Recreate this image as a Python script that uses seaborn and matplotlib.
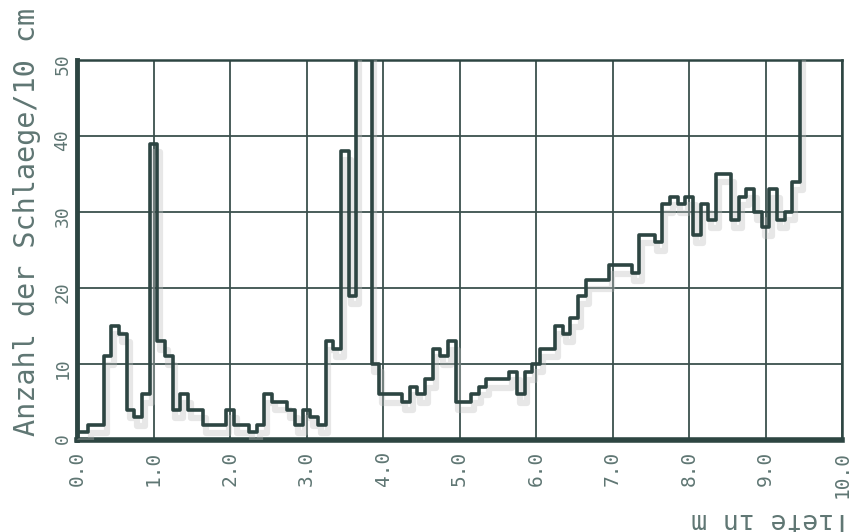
import matplotlib
matplotlib.use("Agg")
import matplotlib.pyplot as plt
import matplotlib.patheffects as pe
import numpy as np
import pandas as pd
import seaborn as sns

# Depth of each 10 cm interval (m)
depth = [round(0.1 * i, 1) for i in range(96)]

# Blow counts per 10 cm (values above 50 run off the top of the plot)
blows = [
    1, 1, 2, 2, 11, 15, 14, 4, 3, 6,          # 0.0 - 0.9
    39, 13, 11, 4, 6, 4, 4, 2, 2, 2,          # 1.0 - 1.9
    4, 2, 2, 1, 2, 6, 5, 5, 4, 2,             # 2.0 - 2.9
    4, 3, 2, 13, 12, 38, 19, 60, 60, 10,      # 3.0 - 3.9
    6, 6, 6, 5, 7, 6, 8, 12, 11, 13,          # 4.0 - 4.9
    5, 5, 6, 7, 8, 8, 8, 9, 6, 9,             # 5.0 - 5.9
    10, 12, 12, 15, 14, 16, 19, 21, 21, 21,   # 6.0 - 6.9
    23, 23, 23, 22, 27, 27, 26, 31, 32, 31,   # 7.0 - 7.9
    32, 27, 31, 29, 35, 35, 29, 32, 33, 30,   # 8.0 - 8.9
    28, 33, 29, 30, 34, 60,                   # 9.0 - 9.5
]

x_ticks = [0, 1, 2, 3, 4, 5, 6, 7, 8, 9, 10]
x_tick_labels = ["0.0", "1.0", "2.0", "3.0", "4.0", "5.0", "6.0", "7.0", "8.0", "9.0", "10.0"]
y_ticks = [0, 10, 20, 30, 40, 50]
y_tick_labels = ["0", "10", "20", "30", "40", "50"]

df = pd.DataFrame({"Tiefe": depth, "Schlaege": blows})

sns.set_style("white")
plt.rcParams["font.family"] = ["DejaVu Sans Mono", "DejaVu Sans"]

line_col = "#2d4542"
grid_col = "#3b504d"
text_col = "#5f7673"

fig = plt.figure(figsize=(8.51, 5.32), dpi=100)
ax = fig.add_axes([0.0905, 0.173, 0.899, 0.714])

sns.lineplot(
    data=df, x="Tiefe", y="Schlaege", ax=ax,
    estimator=None, drawstyle="steps-mid",
    color=line_col, linewidth=2.6, zorder=5,
    path_effects=[
        pe.SimpleLineShadow(offset=(2, -6), shadow_color="#bdbdbd", alpha=0.35, linewidth=4.5),
        pe.Normal(),
    ],
)

ax.set_xlim(0, 10)
ax.set_ylim(0, 50)
ax.set_xticks(x_ticks)
ax.set_xticklabels(x_tick_labels)
ax.set_yticks(y_ticks)
ax.set_yticklabels(y_tick_labels)
ax.tick_params(axis="x", labelrotation=90, length=0, pad=8, labelsize=14, labelcolor=text_col)
ax.tick_params(axis="y", labelrotation=90, length=0, pad=4, labelsize=13, labelcolor=text_col)

ax.grid(True, color=grid_col, linewidth=1.3)
ax.set_axisbelow(True)

for side, lw in (("left", 3.5), ("bottom", 4.0), ("top", 1.8), ("right", 1.8)):
    ax.spines[side].set_visible(True)
    ax.spines[side].set_color(line_col)
    ax.spines[side].set_linewidth(lw)

ax.set_xlabel("")
ax.set_ylabel("Anzahl der Schlaege/10 cm", fontsize=20.5, color=text_col)
ax.yaxis.set_label_coords(-0.047, 0.574)

fig.text(0.905, 0.022, "Tiefe in m", rotation=180, ha="center", va="center",
         fontsize=19, color=text_col)

fig.savefig("out.png", dpi=100, facecolor="white")
